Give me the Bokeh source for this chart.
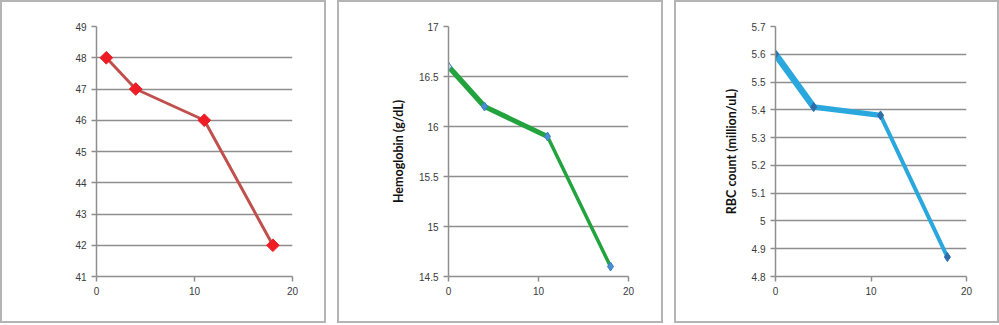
from bokeh.plotting import figure
from bokeh.models import FixedTicker, CustomJSTickFormatter, Range1d, Row
from bokeh.embed import file_html
from bokeh.resources import INLINE
import numpy as np

# ---- data ----
days_hct = [1, 4, 11, 18]
hematocrit = [48, 47, 46, 42]
days_hgb = [0, 4, 11, 18]
hemoglobin = [16.6, 16.2, 15.9, 14.6]
days_rbc = [0, 4, 11, 18]
rbc_count = [5.6, 5.41, 5.38, 4.87]

x_ticks = [0, 10, 20]
hct_ticks = [41, 42, 43, 44, 45, 46, 47, 48, 49]
hgb_ticks = [14.5, 15, 15.5, 16, 16.5, 17]
rbc_ticks = [4.8, 4.9, 5.0, 5.1, 5.2, 5.3, 5.4, 5.5, 5.6, 5.7]

GRAY = "#8e8e8e"
FMT = CustomJSTickFormatter(code="return String(Number(tick.toFixed(2)))")


def panel(total_w, left, frame_w, yticks, ylabel, label_standoff=10):
    w = total_w
    h = 323
    p = figure(width=w, height=h,
               x_range=Range1d(0, 20), y_range=Range1d(yticks[0], yticks[-1]),
               output_backend="svg", toolbar_location=None,
               min_border_left=left, min_border_right=w - left - frame_w,
               min_border_top=24, min_border_bottom=h - 24 - 250)
    p.styles = {"border": "2px solid #b4b4b4"}
    p.outline_line_color = None
    p.background_fill_color = "white"
    p.border_fill_color = "white"
    p.xgrid.grid_line_color = None
    p.ygrid.ticker = FixedTicker(ticks=yticks)
    p.ygrid.grid_line_color = GRAY
    p.ygrid.grid_line_width = 1.5

    for ax, t in ((p.xaxis, x_ticks), (p.yaxis, yticks)):
        ax.ticker = FixedTicker(ticks=t)
        ax.formatter = FMT
        ax.axis_line_color = GRAY
        ax.axis_line_width = 1.5
        ax.major_tick_line_color = GRAY
        ax.major_tick_line_width = 1.5
        ax.major_tick_in = 0
        ax.major_tick_out = 5
        ax.minor_tick_line_color = None
        ax.major_label_text_font = "Liberation Sans"
        ax.major_label_text_font_size = "10px"
        ax.major_label_text_color = "#3a3a3a"
        ax.major_label_standoff = 5
    if ylabel:
        p.yaxis.axis_label = ylabel
        p.yaxis.axis_label_text_font = "Lato"
        p.yaxis.axis_label_text_font_style = "bold"
        p.yaxis.axis_label_text_font_size = "12.5px"
        p.yaxis.axis_label_text_color = "#111111"
        p.yaxis.axis_label_standoff = label_standoff
    return p


# Panel 1 : hematocrit-like values
p1 = panel(326, 94, 196, hct_ticks, None)
p1.line(days_hct, hematocrit, line_color="#c0504d", line_width=3)
p1.scatter(days_hct, hematocrit, marker="square", angle=np.pi / 4, size=9,
           fill_color="#ee1c25", line_color="#ee1c25")

# Panel 2 : hemoglobin
p2 = panel(326, 109, 180, hgb_ticks, "Hemoglobin (g/dL)")
p2.segment(x0=days_hgb[:-1], y0=hemoglobin[:-1], x1=days_hgb[1:], y1=hemoglobin[1:],
           line_color="#23a33e", line_width=[5.5, 5, 3.5], line_cap="round")
p2.scatter(days_hgb, hemoglobin, marker="diamond", size=9,
           fill_color=["#dce9f7", "#4a8fd6", "#4a8fd6", "#4a8fd6"], line_color="#3f7fc4")

# Panel 3 : RBC count
p3 = panel(325, 99, 191, rbc_ticks, "RBC count (million/uL)")
p3.segment(x0=days_rbc[:-1], y0=rbc_count[:-1], x1=days_rbc[1:], y1=rbc_count[1:],
           line_color="#2aa8dd", line_width=[6.5, 5.5, 4], line_cap="round")
p3.scatter(days_rbc, rbc_count, marker="diamond", size=9,
           fill_color="#2e6da8", line_color="#2e6da8")

layout = Row(children=[p1, p2, p3], spacing=11)

open("out.html", "w").write(file_html(layout, INLINE))
